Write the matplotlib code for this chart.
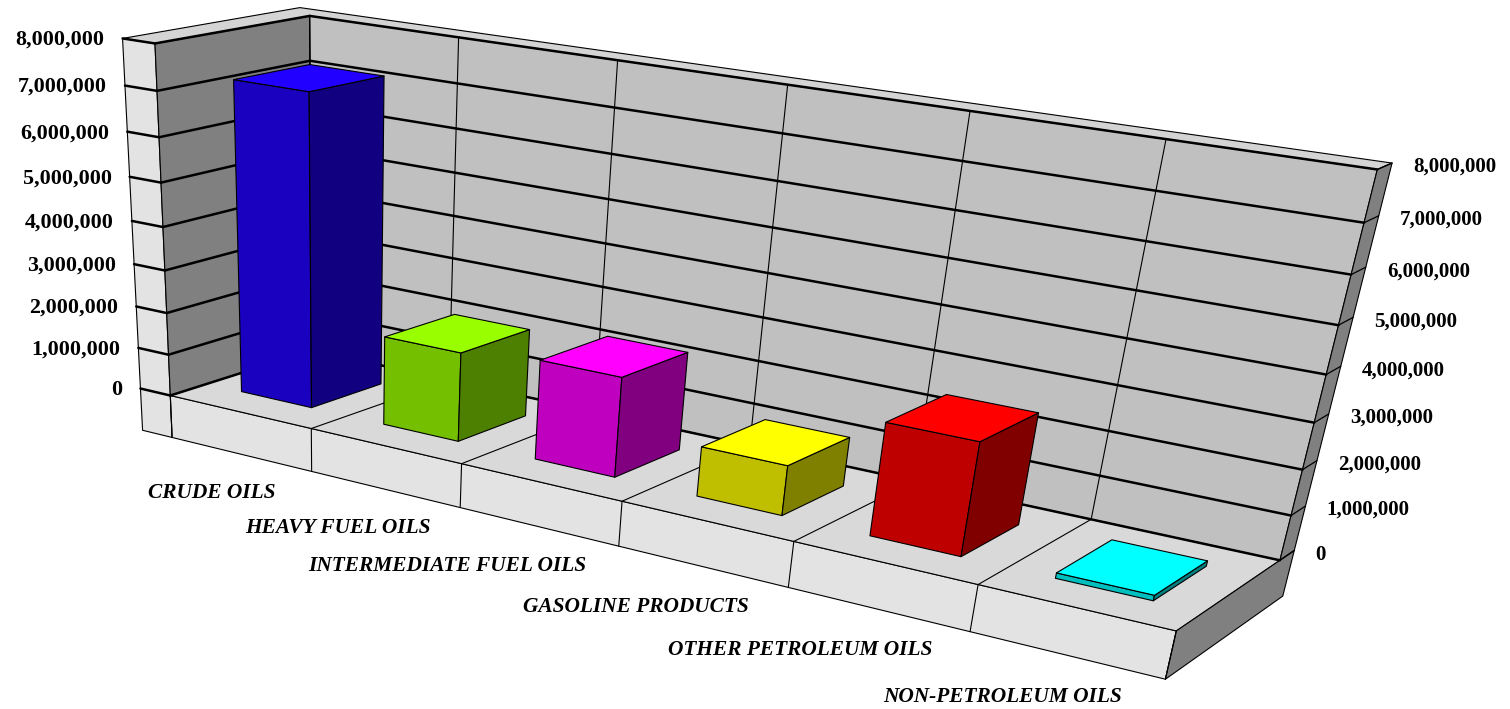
import numpy as np
import matplotlib
matplotlib.use("Agg")
import matplotlib.pyplot as plt
from matplotlib.patches import Polygon

categories = ["CRUDE OILS", "HEAVY FUEL OILS", "INTERMEDIATE FUEL OILS",
              "GASOLINE PRODUCTS", "OTHER PETROLEUM OILS", "NON-PETROLEUM OILS"]
values = [7200000, 2080000, 2290000, 1130000, 2500000, 120000]
ticks = [0, 1000000, 2000000, 3000000, 4000000, 5000000, 6000000, 7000000, 8000000]
top_colors = ["#2200ff", "#99ff00", "#ff00ff", "#ffff00", "#ff0000", "#00ffff"]
front_colors = ["#1a00bf", "#73bf00", "#bf00bf", "#bfbf00", "#bf0000", "#00bfbf"]
side_colors = ["#110080", "#4d8000", "#800080", "#808000", "#800000", "#008080"]
label_nudge = [-3, 5, 5, 1, 6, 4]

# Camera calibration: scene point (category, depth, millions) -> picture pixel
T, YB, H = 0.22, 1.15, 1.05
calib = [
    ((0, 0, 0), (171, 394)), ((0, 0, 8), (155, 43)), ((0, 1, 8), (311, 17)),
    ((0, 1, 0), (311, 349)), ((6, 1, 8), (1377, 169)), ((6, 1, 0), (1280, 559)),
    ((6, 0, 0), (1177, 628)), ((1, 0, 0), (312, 427)), ((5, 0, 0), (978, 584)),
    ((1, 1, 8), (459, 37)), ((5, 1, 8), (1167, 141)), ((5, 1, 0), (1090, 517)),
    ((0, 0, 7), (157, 90)), ((0, 0, 1), (169, 353)),
    ((6, YB, 8), (1392, 163)), ((6, YB, 0), (1295, 550)), ((6, YB, -H), (1283, 599)),
    ((6, 0, -H), (1164, 683)), ((-T, 0, -H), (142, 433)), ((-T, 0, 8), (121, 39)),
    ((0, 0, -H), (173, 440)), ((-T, YB, 8), (299, 8)),
]
A = []
for (x, y, z), (u, v) in calib:
    A.append([x, y, z, 1, 0, 0, 0, 0, -u*x, -u*y, -u*z, -u])
    A.append([0, 0, 0, 0, x, y, z, 1, -v*x, -v*y, -v*z, -v])
P = np.linalg.svd(np.array(A, float))[2][-1].reshape(3, 4)

def pr(x, y, z):
    q = P @ np.array([x, y, z, 1.0])
    return q[:2] / q[2]

fig = plt.figure(figsize=(15.10, 7.09), dpi=100)
ax = fig.add_axes([0, 0, 1, 1])
ax.set_xlim(0, 1510)
ax.set_ylim(709, 0)
ax.axis("off")
EDGE = "black"

def face(pts, color, lw=0.8, zorder=1):
    ax.add_patch(Polygon([pr(*p) for p in pts], closed=True, facecolor=color,
                         edgecolor=EDGE, linewidth=lw, joinstyle="round", zorder=zorder))

def line(a, b, lw=0.8):
    p, q = pr(*a), pr(*b)
    ax.plot([p[0], q[0]], [p[1], q[1]], color="black", lw=lw, solid_capstyle="round", zorder=2)

N = len(categories)
Z = ticks[-1] / 1e6
# shell
face([(-T, 0, -H), (-T, 0, Z), (0, 0, Z), (0, 0, -H)], "#e3e3e3")
face([(0, 0, -H), (0, 0, 0), (N, 0, 0), (N, 0, -H)], "#e3e3e3")
face([(0, 0, 0), (0, 1, 0), (0, 1, Z), (0, 0, Z)], "#808080")
face([(0, 1, 0), (N, 1, 0), (N, 1, Z), (0, 1, Z)], "#c0c0c0")
face([(0, 0, 0), (N, 0, 0), (N, 1, 0), (0, 1, 0)], "#d9d9d9")
face([(-T, 0, Z), (-T, YB, Z), (N, YB, Z), (N, 1, Z), (0, 1, Z), (0, 0, Z)], "#d4d4d4")
face([(N, 1, 0), (N, YB, 0), (N, YB, Z), (N, 1, Z)], "#808080")
face([(N, 0, 0), (N, 1, 0), (N, YB, 0), (N, YB, -H), (N, 0, -H)], "#808080")

for i in range(1, N):
    line((i, 1, 0), (i, 1, Z))
    line((i, 0, 0), (i, 1, 0))
for i in range(N + 1):
    line((i, 0, 0), (i, 0, -H))
line((0, 1, 0), (0, 1, Z), 1.0)

for t in ticks:
    z = t / 1e6
    line((-T, 0, z), (0, 0, z), 1.8)
    line((0, 0, z), (0, 1, z), 1.8)
    line((0, 1, z), (N, 1, z), 1.8)
    line((N, 1, z), (N, YB, z), 0.9)

# bars
W = 0.25
for i, v in enumerate(values):
    z = v / 1e6
    x0, x1, y0, y1 = i + W, i + 1 - W, W, 1 - W
    zo = 3 + i
    face([(x0, y0, 0), (x1, y0, 0), (x1, y0, z), (x0, y0, z)], front_colors[i], zorder=zo)
    face([(x1, y0, 0), (x1, y1, 0), (x1, y1, z), (x1, y0, z)], side_colors[i], zorder=zo)
    face([(x0, y0, z), (x1, y0, z), (x1, y1, z), (x0, y1, z)], top_colors[i], zorder=zo)

serif = "Liberation Serif"
for t in ticks:
    z = t / 1e6
    p = pr(-T, 0, z)
    ax.text(p[0] - 18, p[1] + 1.5, f"{t:,}", ha="right", va="center", family=serif,
            weight="bold", fontsize=15.8, color="black")
    p = pr(N, YB, z)
    ax.text(p[0] + 21, p[1] + 4, f"{t:,}", ha="left", va="center", family=serif,
            weight="bold", fontsize=15.1, color="black")
for i, c in enumerate(categories):
    p = pr(i + 1 - W, 0, -H)
    ax.text(p[0] + 3 + label_nudge[i], p[1] + 30, c, ha="right", va="center", family=serif,
            weight="bold", style="italic", fontsize=15.4, color="black")

fig.savefig("out.png", dpi=100)
